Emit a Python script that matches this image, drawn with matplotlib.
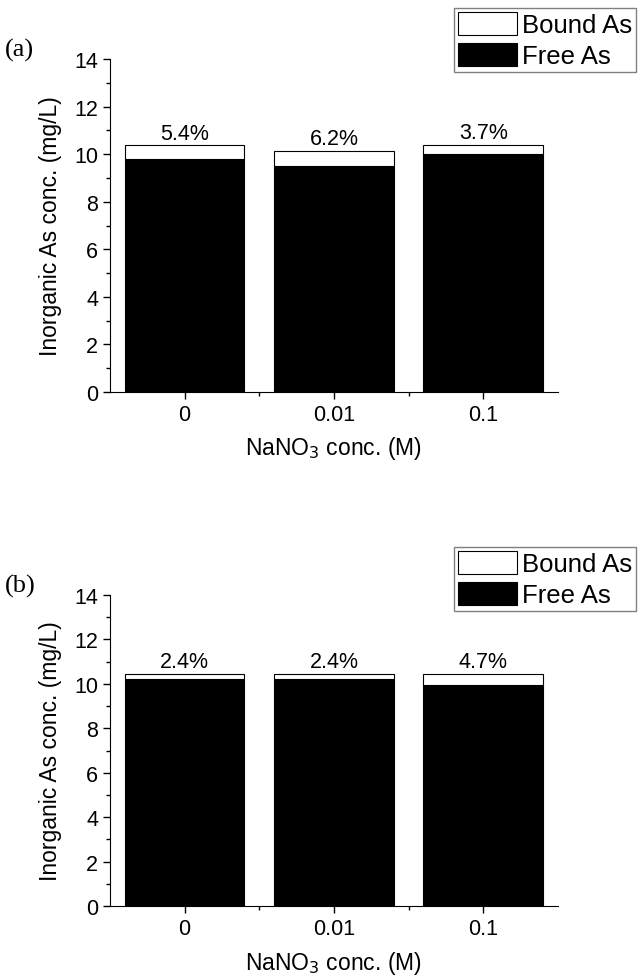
import matplotlib.pyplot as plt
from matplotlib.ticker import MultipleLocator, FixedLocator

plt.rcParams['font.family'] = ['Liberation Sans', 'DejaVu Sans']

# categorie e valori
concs = ["0", "0.01", "0.1"]
free_a = [9.81, 9.50, 10.02]
bound_a = [0.56, 0.63, 0.38]
pct_a = ["5.4%", "6.2%", "3.7%"]

free_b = [10.20, 10.20, 9.96]
bound_b = [0.25, 0.25, 0.49]
pct_b = ["2.4%", "2.4%", "4.7%"]

fig = plt.figure(figsize=(6.39, 9.79), dpi=100)
ax_a = fig.add_axes([0.172, 0.5986, 0.701, 0.340])
ax_b = fig.add_axes([0.172, 0.0735, 0.701, 0.3177])


def disegna(ax, free, bound, pct, lettera, leg_y):
    x = range(len(concs))
    ax.bar(x, free, width=0.8, color='black', edgecolor='black', linewidth=0.8, label='Free As')
    ax.bar(x, bound, width=0.8, bottom=free, color='white', edgecolor='black', linewidth=0.8,
           label='Bound As')
    for i in x:
        ax.text(i, free[i] + bound[i] + 0.08, pct[i], ha='center', va='bottom', fontsize=15.5)
    ax.set_xlim(-0.5, 2.5)
    ax.set_ylim(0, 14)
    ax.set_xticks(list(x))
    ax.set_xticklabels(concs)
    ax.xaxis.set_minor_locator(FixedLocator([0.5, 1.5]))
    ax.yaxis.set_major_locator(MultipleLocator(2))
    ax.yaxis.set_minor_locator(MultipleLocator(1))
    ax.tick_params(which='major', direction='out', length=5, width=1, labelsize=15.5)
    ax.tick_params(which='minor', direction='out', length=3, width=1)
    ax.spines['top'].set_visible(False)
    ax.spines['right'].set_visible(False)
    ax.set_xlabel("NaNO$_3$ conc. (M)", fontsize=16.5, labelpad=7)
    ax.set_ylabel("Inorganic As conc. (mg/L)", fontsize=16.5, labelpad=9)
    h, l = ax.get_legend_handles_labels()
    leg = fig.legend(h[::-1], l[::-1], loc='upper left', bbox_to_anchor=(0.7105, leg_y),
                     fontsize=18.5, frameon=True, fancybox=False, edgecolor='gray', framealpha=1,
                     borderaxespad=0, borderpad=0.15, handlelength=2.3, handleheight=1.0,
                     labelspacing=0.22, handletextpad=0.2)
    leg.get_frame().set_linewidth(1)
    fig.text(0.008, ax.get_position().y1 + 0.01, lettera, fontsize=19,
             family=['Liberation Serif', 'DejaVu Serif'], ha='left', va='center')


disegna(ax_a, free_a, bound_a, pct_a, "(a)", 0.9908)
disegna(ax_b, free_b, bound_b, pct_b, "(b)", 0.4402)

fig.savefig("out.png", dpi=100)
